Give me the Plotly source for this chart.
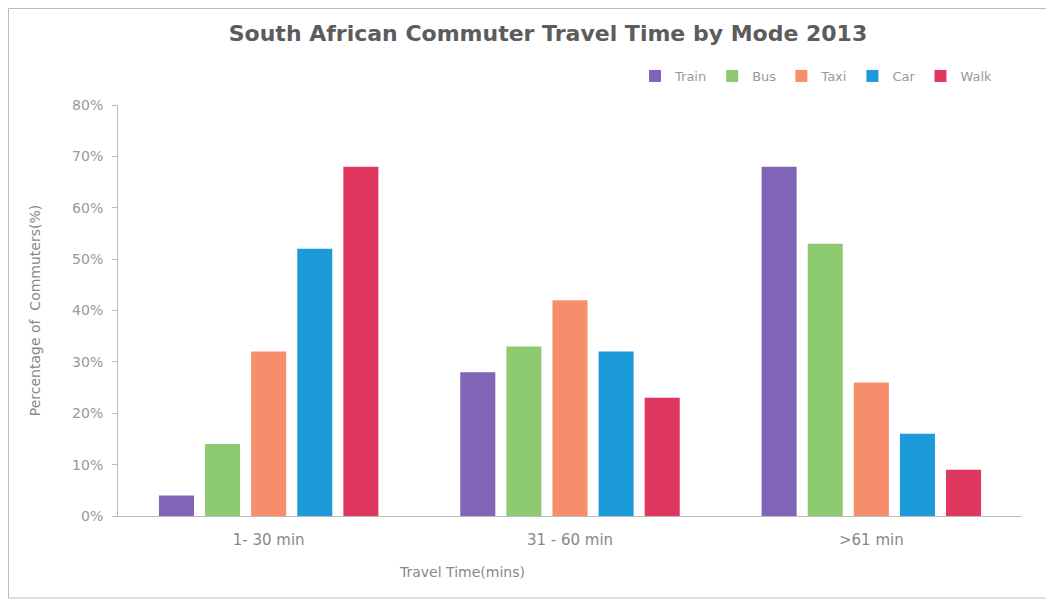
import plotly.graph_objects as go

categories = ['1- 30 min', '31 - 60 min', '>61 min']
modes = ['Train', 'Bus', 'Taxi', 'Car', 'Walk']
train = [4, 28, 68]
bus = [14, 33, 53]
taxi = [32, 42, 26]
car = [52, 32, 16]
walk = [68, 23, 9]
series = [train, bus, taxi, car, walk]
colors = ['#8064b8', '#8ecb70', '#f68e6c', '#1c9ad9', '#e0375f']

# page body has an 8px margin, so the figure is sized to fit inside it
W, H = 1046, 594
L, R, T, B = 110, 32, 97, 86
pw, ph = W - L - R, H - T - B


def px(x):
    return (x - L) / pw


def py(y):
    return (H - B - y) / ph


fig = go.Figure()
for name, vals, col in zip(modes, series, colors):
    fig.add_trace(go.Bar(
        x=categories, y=vals, name=name,
        marker=dict(color=col, line=dict(width=0))
    ))

fig.update_layout(
    width=W, height=H,
    paper_bgcolor='white', plot_bgcolor='white',
    font=dict(family='DejaVu Sans', color='#888'),
    title=dict(text='<b>South African Commuter Travel Time by Mode 2013</b>',
               x=px(540), xanchor='center', xref='paper',
               y=1 - 25 / H, yanchor='middle',
               font=dict(size=22, color='#5c5c5c')),
    barmode='group', bargap=0.235, bargroupgap=0.24,
    margin=dict(l=L, r=R, t=T, b=B),
    legend=dict(orientation='h', x=px(990), xanchor='right', y=py(68), yanchor='middle',
                font=dict(size=13, color='#999'), itemwidth=30, tracegroupgap=0),
    showlegend=True,
)
fig.update_yaxes(range=[0, 80], dtick=10, ticksuffix='%', showgrid=False,
                 showline=True, linecolor='#bbb', ticks='outside', tickcolor='#bbb',
                 ticklen=5, ticklabelstandoff=6, tickfont=dict(size=14, color='#999'),
                 zeroline=False,
                 title=dict(text='Percentage of  Commuters(%)', font=dict(size=14, color='#888'),
                            standoff=28))
fig.update_xaxes(showline=True, linecolor='#bbb', showgrid=False, ticklabelstandoff=10,
                 tickfont=dict(size=15, color='#888'))
fig.add_annotation(text='Travel Time(mins)', xref='paper', yref='paper',
                   x=px(454), y=py(564), showarrow=False,
                   xanchor='center', yanchor='middle', font=dict(size=14, color='#888'))
fig.add_shape(type='rect', xref='paper', yref='paper',
              x0=px(0.5), x1=px(1041), y0=py(590), y1=py(0.5),
              line=dict(color='#bbb', width=1))

fig.write_html('out.html')
